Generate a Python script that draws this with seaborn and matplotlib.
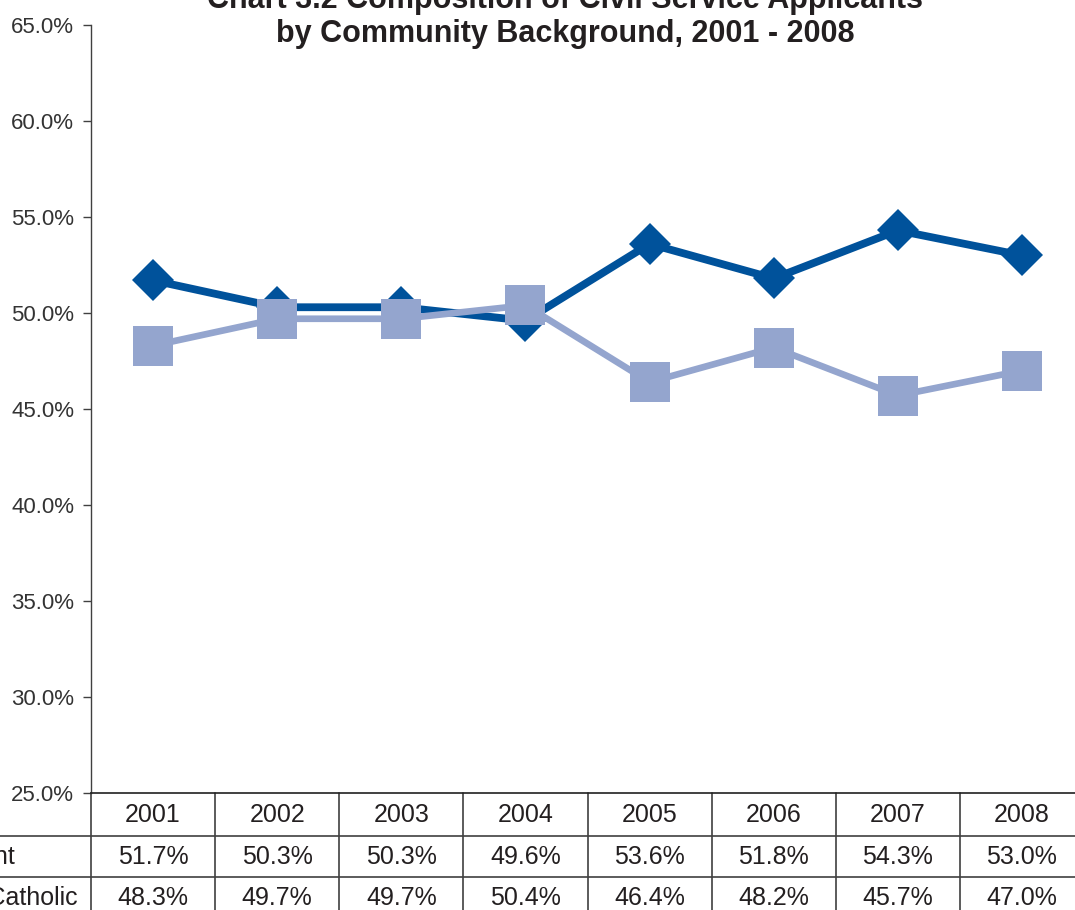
import matplotlib
matplotlib.use('Agg')
import matplotlib.pyplot as plt
import numpy as np
import pandas as pd
import seaborn as sns
from matplotlib.ticker import FuncFormatter

# ---------------- data ----------------
years = ['2001', '2002', '2003', '2004', '2005', '2006', '2007', '2008']
protestant = [51.7, 50.3, 50.3, 49.6, 53.6, 51.8, 54.3, 53.0]
catholic = [48.3, 49.7, 49.7, 50.4, 46.4, 48.2, 45.7, 47.0]
series_names = ['Protestant', 'Roman Catholic']
title_lines = ['Chart 3.2 Composition of Civil Service Applicants',
               'by Community Background, 2001 - 2008']
y_ticks = [25, 30, 35, 40, 45, 50, 55, 60, 65]

DARK = '#00529B'
LIGHT = '#94A5CE'
TEXT = '#231F20'

sns.set_theme(style='white')
plt.rcParams['font.family'] = ['Liberation Sans', 'DejaVu Sans']

W, H = 1075, 910
fig = plt.figure(figsize=(W / 100, H / 100), dpi=100)
ax_l, ax_r, ax_t, ax_b = 91, 1084, 25, 793
ax_h = ax_b - ax_t
ax = fig.add_axes([ax_l / W, 1 - ax_b / H, (ax_r - ax_l) / W, ax_h / H])

df = pd.DataFrame({'pos': np.arange(len(years)),
                   series_names[0]: protestant,
                   series_names[1]: catholic})

sns.lineplot(data=df, x='pos', y=series_names[0], ax=ax, color=DARK, lw=5.6,
             marker='D', markersize=21.5, markeredgewidth=0, zorder=3,
             solid_joinstyle='round')
sns.lineplot(data=df, x='pos', y=series_names[1], ax=ax, color=LIGHT, lw=4.8,
             marker='s', markersize=29.5, markeredgewidth=0, zorder=4,
             solid_joinstyle='round')

ax.set_xlim(-0.5, len(years) - 0.5)
ax.set_ylim(y_ticks[0], y_ticks[-1])
ax.set_yticks(y_ticks)
ax.yaxis.set_major_formatter(FuncFormatter(lambda v, p: f'{v:.1f}%'))
ax.set_xticks([])
ax.set_xlabel('')
ax.set_ylabel('')
ax.grid(False)
for s in ['top', 'right']:
    ax.spines[s].set_visible(False)
ax.spines['left'].set_color('#404040')
ax.spines['left'].set_linewidth(1.0)
ax.spines['bottom'].set_color('#202020')
ax.spines['bottom'].set_linewidth(1.2)
ax.tick_params(axis='y', left=True, length=6, width=1, color='#404040',
               pad=6, labelsize=16, labelcolor='#333333')

# ---------------- data table ----------------
trans = ax.get_xaxis_transform()
def fy(px):
    return -px / ax_h

n = len(years)
for i in range(n + 1):
    ax.plot([i - 0.5, i - 0.5], [0, fy(140)], transform=trans, color='#404040',
            lw=1.2, clip_on=False)
for yy in (43, 84):
    ax.plot([-2, n - 0.5], [fy(yy), fy(yy)], transform=trans, color='#404040',
            lw=1.2, clip_on=False)

for i, yr in enumerate(years):
    ax.text(i, fy(22), yr, transform=trans, ha='center', va='center',
            fontsize=18, color=TEXT)
    ax.text(i, fy(64), f'{protestant[i]:.1f}%', transform=trans, ha='center',
            va='center', fontsize=18, color=TEXT)
    ax.text(i, fy(105), f'{catholic[i]:.1f}%', transform=trans, ha='center',
            va='center', fontsize=18, color=TEXT)

fig.text(15 / W, 1 - 857 / H, series_names[0], ha='right', va='center',
         fontsize=18, color=TEXT)
fig.text(78 / W, 1 - 898 / H, series_names[1], ha='right', va='center',
         fontsize=18, color=TEXT)

# ---------------- title ----------------
fig.text(565 / W, 1 - 8 / H, title_lines[0], ha='center', va='baseline',
         fontsize=22, fontweight='bold', color=TEXT)
fig.text(565 / W, 1 - 42 / H, title_lines[1], ha='center', va='baseline',
         fontsize=22, fontweight='bold', color=TEXT)

fig.savefig('out.png', dpi=100)
